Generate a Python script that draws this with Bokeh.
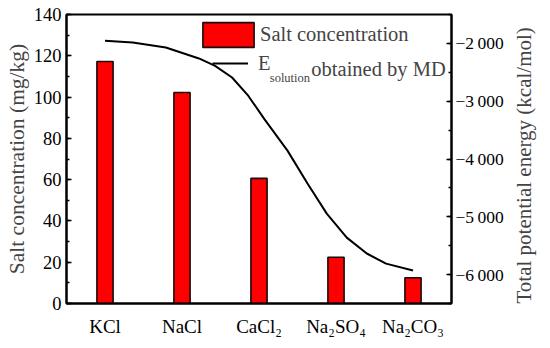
import math
from bokeh.plotting import figure
from bokeh.models import (Range1d, LinearAxis, FixedTicker, SingleIntervalTicker,
                          Legend, LegendItem, Label)
from bokeh.embed import file_html
from bokeh.resources import INLINE

# ---- data ----
salts = ["KCl", "NaCl", "CaCl\u2082", "Na\u2082SO\u2084", "Na\u2082CO\u2083"]
salt_conc = [117.2, 102.2, 60.6, 22.4, 12.5]          # mg/kg
# E_solution curve (position in category units, kcal/mol)
curve_pos = [0.50, 0.86, 1.29, 1.72, 1.93, 2.15, 2.36, 2.57, 2.87, 3.13, 3.38, 3.64, 3.90, 4.15, 4.50]
curve_energy = [-1955, -1985, -2070, -2260, -2390, -2590, -2905, -3310, -3855, -4425,
                -4945, -5360, -5635, -5810, -5930]
energy_ticks = [-6000, -5000, -4000, -3000, -2000]
energy_labels = ["\u22126\u2009000", "\u22125\u2009000", "\u22124\u2009000", "\u22123\u2009000", "\u22122\u2009000"]

FONT = "Liberation Serif"
cat_x = [i + 0.5 for i in range(len(salts))]

p = figure(width=550, height=348,
           min_border_left=66, min_border_right=94, min_border_top=14, min_border_bottom=45,
           x_range=Range1d(0, 5), y_range=Range1d(0, 140),
           output_backend="svg", toolbar_location=None)
p.extra_y_ranges = {"energy": Range1d(-6500, -1500)}
p.xgrid.visible = False
p.ygrid.visible = False
p.outline_line_color = "black"
p.outline_line_width = 2
p.background_fill_color = "white"
p.border_fill_color = "white"

bars = p.vbar(x=cat_x, top=salt_conc, width=0.21, bottom=0,
              fill_color="#FF0000", line_color="#1a0a0a", line_width=1.6)
curve = p.line(curve_pos, curve_energy, y_range_name="energy",
               line_color="black", line_width=2)

# bottom axis
xa = p.xaxis[0]
xa.ticker = FixedTicker(ticks=cat_x)
xa.major_label_overrides = {x: s for x, s in zip(cat_x, salts)}
xa.major_tick_in = 0
xa.major_tick_out = 0
xa.minor_tick_in = 0
xa.minor_tick_out = 0
xa.axis_line_width = 2
xa.major_label_standoff = 12
xa.major_label_text_font = FONT
xa.major_label_text_font_size = "19px"
xa.major_label_text_color = "black"

# left axis
ya = p.yaxis[0]
ya.ticker = SingleIntervalTicker(interval=20, num_minor_ticks=2)
ya.major_tick_in = 5
ya.major_tick_out = 0
ya.minor_tick_in = 3
ya.minor_tick_out = 0
ya.axis_line_width = 2
ya.major_tick_line_width = 1.5
ya.minor_tick_line_width = 1.5
ya.major_label_standoff = 5
ya.major_label_text_font = FONT
ya.major_label_text_font_size = "18.5px"
ya.major_label_text_color = "black"
ya.axis_label = "Salt concentration (mg/kg)"
ya.axis_label_text_font = FONT
ya.axis_label_text_font_size = "21.5px"
ya.axis_label_text_font_style = "normal"
ya.axis_label_standoff = 2

# right axis
ra = LinearAxis(y_range_name="energy",
                ticker=SingleIntervalTicker(interval=1000, num_minor_ticks=2))
ra.major_label_overrides = {t: s for t, s in zip(energy_ticks, energy_labels)}
ra.major_tick_in = 5
ra.major_tick_out = 0
ra.minor_tick_in = 3
ra.minor_tick_out = 0
ra.axis_line_width = 2
ra.major_tick_line_width = 1.5
ra.minor_tick_line_width = 1.5
ra.major_label_standoff = 4
ra.major_label_text_font = FONT
ra.major_label_text_font_size = "17.5px"
ra.major_label_text_color = "black"
ra.axis_label = "Total potential energy (kcal/mol)"
ra.axis_label_text_font = FONT
ra.axis_label_text_font_size = "21px"
ra.axis_label_text_font_style = "normal"
ra.axis_label_standoff = 17
ra.axis_label_orientation = math.pi / 2
ra.axis_label_align = "start"
p.add_layout(ra, "right")

# legends
leg1 = Legend(items=[LegendItem(label="Salt concentration", renderers=[bars])],
              location=(130, 253), glyph_width=64, glyph_height=31,
              label_standoff=0, padding=0, margin=0, spacing=0,
              border_line_color=None, background_fill_alpha=0,
              label_text_font=FONT, label_text_font_size="20.5px")
leg2 = Legend(items=[LegendItem(label="E", renderers=[curve])],
              location=(146, 228), glyph_width=36, glyph_height=24,
              label_standoff=10, padding=0, margin=0, spacing=0,
              border_line_color=None, background_fill_alpha=0,
              label_text_font=FONT, label_text_font_size="20.5px")
p.add_layout(leg1)
p.add_layout(leg2)

p.add_layout(Label(x=2.64, y=109.0, text="solution", text_font=FONT,
                   text_font_size="12.5px", text_baseline="alphabetic"))
p.add_layout(Label(x=3.18, y=113.4, text="obtained by MD", text_font=FONT,
                   text_font_size="20.5px", text_baseline="alphabetic"))

open("out.html", "w").write(file_html(p, INLINE))
